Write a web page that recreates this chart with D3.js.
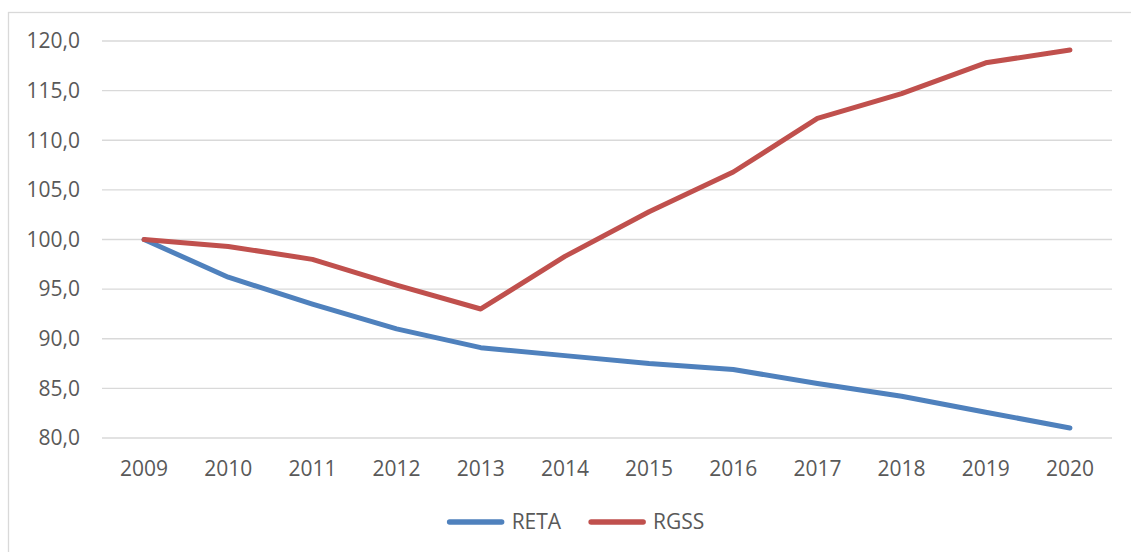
<!DOCTYPE html>
<html>
<head>
<meta charset="utf-8">
<script src="https://cdn.jsdelivr.net/npm/d3@7"></script>
<style>
  body { margin: 0; background: #fff; }
  text { font-family: "Open Sans", "Liberation Sans", sans-serif; fill: #595959; }
</style>
</head>
<body>
<div id="chart"></div>
<script>
// data
var years = ["2009", "2010", "2011", "2012", "2013", "2014", "2015", "2016", "2017", "2018", "2019", "2020"];
var reta = [100.0, 96.2, 93.5, 91.0, 89.1, 88.3, 87.5, 86.9, 85.5, 84.2, 82.6, 81.0];
var rgss = [100.0, 99.3, 98.0, 95.4, 93.0, 98.3, 102.8, 106.8, 112.2, 114.7, 117.8, 119.1];
var yTicks = [80, 85, 90, 95, 100, 105, 110, 115, 120];
var seriesNames = ["RETA", "RGSS"];
var seriesColors = ["#4F81BD", "#C0504D"];

var width = 1131, height = 552;
var margin = {left: 102, right: 19, top: 41, bottom: 114};

var svg = d3.select("#chart").append("svg")
    .attr("width", width)
    .attr("height", height);

// chart area border
svg.append("rect")
    .attr("x", 8.5).attr("y", 12.5)
    .attr("width", 1140).attr("height", 560)
    .attr("fill", "none")
    .attr("stroke", "#d9d9d9")
    .attr("stroke-width", 1.3);

var x = d3.scaleBand()
    .domain(years)
    .range([margin.left, width - margin.right]);

var y = d3.scaleLinear()
    .domain([80, 120])
    .range([height - margin.bottom, margin.top]);

var fmt = d3.formatLocale({decimal: ",", thousands: ".", grouping: [3], currency: ["", "€"]}).format(".1f");

// gridlines
svg.append("g")
    .selectAll("line")
    .data(yTicks)
    .enter().append("line")
    .attr("x1", margin.left)
    .attr("x2", width - margin.right)
    .attr("y1", d => y(d))
    .attr("y2", d => y(d))
    .attr("stroke", "#d9d9d9")
    .attr("stroke-width", 1.3);

// y labels
svg.append("g")
    .selectAll("text")
    .data(yTicks)
    .enter().append("text")
    .attr("x", 80)
    .attr("y", d => y(d))
    .attr("dy", "0.35em")
    .attr("text-anchor", "end")
    .style("font-size", "21px")
    .text(d => fmt(d));

// x labels
svg.append("g")
    .selectAll("text")
    .data(years)
    .enter().append("text")
    .attr("x", d => x(d) + x.bandwidth() / 2)
    .attr("y", 476)
    .attr("text-anchor", "middle")
    .style("font-size", "21px")
    .text(d => d);

// lines
var line = d3.line()
    .x((d, i) => x(years[i]) + x.bandwidth() / 2)
    .y(d => y(d));

[reta, rgss].forEach(function(s, i) {
    svg.append("path")
        .datum(s)
        .attr("d", line)
        .attr("fill", "none")
        .attr("stroke", seriesColors[i])
        .attr("stroke-width", 5)
        .attr("stroke-linejoin", "round")
        .attr("stroke-linecap", "round");
});

// legend
var legend = svg.append("g");
var cursor = 0;
seriesNames.forEach(function(name, i) {
    var g = legend.append("g").attr("transform", "translate(" + cursor + ",0)");
    g.append("line")
        .attr("x1", 3).attr("x2", 55)
        .attr("y1", 0).attr("y2", 0)
        .attr("stroke", seriesColors[i])
        .attr("stroke-width", 5.5)
        .attr("stroke-linecap", "round");
    var t = g.append("text")
        .attr("x", 65)
        .attr("y", 0)
        .attr("dy", "0.35em")
        .style("font-size", "21px")
        .text(name);
    cursor += 65 + t.node().getComputedTextLength() + 27;
});
var legendW = cursor - 27;
legend.attr("transform", "translate(" + (575.5 - legendW / 2) + ",522)");
</script>
</body>
</html>
